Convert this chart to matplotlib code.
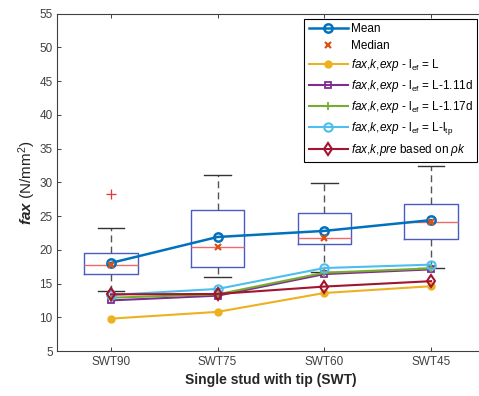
import numpy as np
import matplotlib
matplotlib.use('Agg')
import matplotlib.pyplot as plt

plt.rcParams['font.family'] = ['Liberation Sans', 'DejaVu Sans']
plt.rcParams['mathtext.fontset'] = 'custom'
plt.rcParams['mathtext.rm'] = 'Liberation Sans'
plt.rcParams['mathtext.it'] = 'Liberation Sans:italic'
plt.rcParams['mathtext.bf'] = 'Liberation Sans:bold'
plt.rcParams['mathtext.bfit'] = 'Liberation Sans:italic:bold'

# data
cats = ['SWT90', 'SWT75', 'SWT60', 'SWT45']
q1 = [16.35, 17.5, 20.9, 21.6]
q3 = [19.55, 25.95, 25.5, 26.75]
med = [17.75, 20.4, 21.8, 24.15]
whislo = [13.85, 15.95, 16.7, 17.35]
whishi = [23.2, 31.1, 29.95, 32.35]
fliers = [[28.2], [], [], []]
mean = [18.05, 21.9, 22.8, 24.4]

f_L = [9.8, 10.8, 13.6, 14.6]
f_111 = [12.5, 13.2, 16.4, 17.1]
f_117 = [12.9, 13.4, 16.6, 17.25]
f_ltp = [13.3, 14.2, 17.3, 17.8]
f_pre = [13.4, 13.45, 14.55, 15.35]

exp = r'$\mathit{fax{,}k{,}exp}$ - l$_{\mathrm{ef}}$ = '
labels = ['Mean', 'Median', exp + 'L', exp + 'L-1.11d', exp + 'L-1.17d',
          exp + r'L-l$_{\mathrm{tp}}$',
          r'$\mathit{fax{,}k{,}pre}$ based on $\mathit{\rho k}$']

fig = plt.figure(figsize=(4.79, 3.96), dpi=100)
ax = fig.add_axes([0.12, 0.1136, 0.8914, 0.852])

x = np.arange(1, len(cats) + 1)

stats = []
for i in range(len(cats)):
    stats.append(dict(q1=q1[i], q3=q3[i], med=med[i], whislo=whislo[i],
                      whishi=whishi[i], fliers=fliers[i]))

ax.bxp(stats, positions=x, widths=0.5, showfliers=True,
       boxprops=dict(color='#4a5cc4', lw=1.0),
       medianprops=dict(color='#f06a6a', lw=1.0),
       whiskerprops=dict(color='#555555', lw=1.0, ls=(0, (5, 3))),
       capprops=dict(color='#333333', lw=1.0),
       capwidths=0.25,
       flierprops=dict(marker='+', markeredgecolor='#ee3333', ms=7, mew=0.9))

ax.plot(x, mean, color='#0072BD', lw=1.8, marker='o', ms=6, mfc='none',
        mew=1.8, label=labels[0], zorder=5)
ax.plot(x, med, ls='None', marker='x', color='#D95319', ms=5, mew=1.6,
        label=labels[1], zorder=6)

ax.plot(x, f_L, color='#EDB120', lw=1.5, marker='o', ms=5,
        label=labels[2], zorder=4)
ax.plot(x, f_111, color='#7E2F8E', lw=1.5, marker='s', ms=5, mfc='none', mew=1.3,
        label=labels[3], zorder=4)
ax.plot(x, f_117, color='#77AC30', lw=1.5, marker='+', ms=6, mew=1.3,
        label=labels[4], zorder=4)
ax.plot(x, f_ltp, color='#4DBEEE', lw=1.5, marker='o', ms=6, mfc='none', mew=1.5,
        label=labels[5], zorder=4)
ax.plot(x, f_pre, color='#A2142F', lw=1.5, marker='d', ms=6, mfc='none', mew=1.5,
        label=labels[6], zorder=4)

ax.set_xlim(0.5, 4.5)
ax.set_ylim(5, 55)
ax.set_yticks(np.arange(5, 56, 5))
ax.set_xticks(x)
ax.set_xticklabels(cats)
ax.tick_params(direction='in', top=True, right=True, labelsize=8.5,
               colors='#404040', length=3, width=0.7)
for s in ax.spines.values():
    s.set_color('#404040')
    s.set_linewidth(0.8)

ax.set_xlabel('Single stud with tip (SWT)', fontsize=10, fontweight='bold',
              color='#262626', labelpad=4)
ax.set_ylabel(r'$\mathbfit{fax}$ (N/mm$^2$)', fontsize=11, color='#262626',
              labelpad=1)

leg = ax.legend(loc='upper right', bbox_to_anchor=(0.996, 0.952),
                bbox_transform=fig.transFigure, borderaxespad=0,
                fontsize=8.5, fancybox=False, framealpha=1, edgecolor='black',
                handlelength=3.3, labelspacing=0.42, borderpad=0.35,
                handletextpad=0.3)
leg.get_frame().set_linewidth(0.8)

fig.savefig('out.png', dpi=100)
